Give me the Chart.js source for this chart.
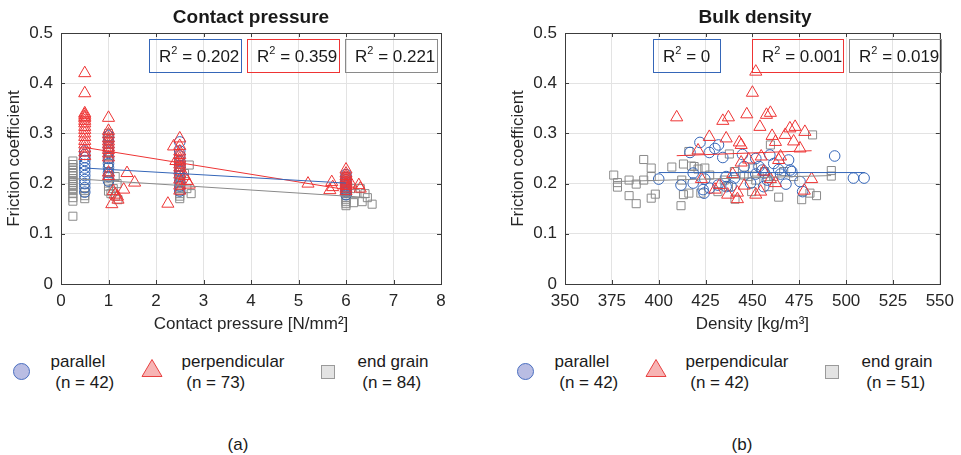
<!DOCTYPE html>
<html>
<head>
<meta charset="utf-8">
<script src="https://cdn.jsdelivr.net/npm/chart.js@4.4.1/dist/chart.umd.min.js"></script>
<style>
  body { margin: 0; background: #fff; font-family: "Liberation Sans", Arial, sans-serif; color: #1a1a1a; }
  #wrap { position: relative; width: 961px; height: 455px; overflow: hidden; }
  canvas { position: absolute; top: 0; }
  .title { position: absolute; top: 6px; font-weight: bold; font-size: 19px; line-height: 22px; transform: translateX(-50%); white-space: nowrap; }
  .r2 { position: absolute; top: 39px; height: 34px; border: 1.3px solid; box-sizing: border-box; font-size: 17px; line-height: 33px; padding-left: 9px; white-space: nowrap; color: #1a1a1a; }
  .r2 sup { font-size: 11px; line-height: 0; position: relative; top: -1px; }
  .leg-text { position: absolute; top: 351px; font-size: 17px; line-height: 21px; white-space: pre; }
  .sub { position: absolute; top: 434px; font-size: 17px; line-height: 21px; transform: translateX(-50%); }
  .mk { position: absolute; box-sizing: border-box; }
</style>
</head>
<body>
<div id="wrap">
  <canvas id="cpChart" width="480" height="340" style="left:0px"></canvas>
  <canvas id="denChart" width="481" height="340" style="left:480px"></canvas>
</div>
<script>
// ---- data ----
const grainTypes = ['parallel', 'perpendicular', 'end grain'];
const cpCounts = [42, 73, 84];
const denCounts = [42, 42, 51];
const cpR2 = ['0.202', '0.359', '0.221'];
const denR2 = ['0', '0.001', '0.019'];

// contact pressure panel
const cpParX = [0.5,0.5,0.5,0.5,0.5,0.5,0.5,0.5,0.5,0.5,0.5,0.5,
  1,1,1,1,1,1,1,1,1,1,
  2.5,2.5,2.5,2.5,2.5,2.5,2.5,2.5,2.5,2.5,
  6,6,6,6,6,6,6,6,6,6];
const cpParY = [0.265,0.258,0.252,0.246,0.238,0.231,0.224,0.216,0.208,0.2,0.192,0.183,
  0.295,0.285,0.272,0.262,0.25,0.24,0.232,0.222,0.214,0.205,
  0.283,0.265,0.255,0.245,0.235,0.225,0.215,0.205,0.195,0.185,
  0.218,0.212,0.207,0.203,0.2,0.196,0.192,0.188,0.184,0.178];

const cpPerpX = [0.5,0.5,0.5,0.5,0.5,0.5,0.5,0.5,0.5,0.5,0.5,0.5,0.5,0.5,0.5,0.5,0.5,
  1,1,1,1,1,1,1,1,1,1,1,1,
  1.07,1.14,1.19,1.1,1.32,1.39,1.55,1.2,
  2.25,2.37,2.42,2.5,2.5,2.5,2.5,2.5,2.5,2.5,2.5,2.5,2.5,2.5,2.5,2.5,2.6,2.65,2.7,
  6,6,6,6,6,6,6,6,6,6,5.2,5.66,5.7,5.72,6.27,6.3,6.1];
const cpPerpY = [0.42,0.38,0.34,0.337,0.333,0.33,0.325,0.32,0.313,0.307,0.3,0.293,0.285,0.278,0.27,0.262,0.255,
  0.331,0.305,0.298,0.29,0.284,0.278,0.272,0.267,0.26,0.252,0.222,0.215,
  0.159,0.178,0.174,0.185,0.188,0.221,0.202,0.168,
  0.16,0.274,0.245,0.29,0.275,0.264,0.257,0.25,0.244,0.238,0.232,0.226,0.218,0.208,0.196,0.186,0.215,0.205,0.198,
  0.228,0.22,0.215,0.21,0.206,0.202,0.198,0.195,0.19,0.185,0.2,0.187,0.203,0.193,0.197,0.19,0.2];

const cpEndX = [0.25,0.25,0.25,0.25,0.25,0.25,0.25,0.25,0.25,0.25,0.25,0.25,0.25,0.25,0.25,0.25,0.25,
  0.5,0.5,0.5,0.5,
  1,1,1,1,1,1,1,1,1,1,1,1,1,1,1,
  1.05,1.1,1.14,1.15,1.2,1.18,
  2.5,2.5,2.5,2.5,2.5,2.5,2.5,2.5,2.5,2.5,2.5,2.5,2.5,2.5,
  2.6,2.7,2.74,2.65,
  6,6,6,6,6,6,6,6,6,6,6,6,6,6,6,6,
  6.1,6.16,6.2,6.3,6.34,6.4,6.45,6.55];
const cpEndY = [0.245,0.238,0.232,0.226,0.22,0.215,0.21,0.206,0.202,0.198,0.194,0.19,0.186,0.18,0.172,0.165,0.135,
  0.19,0.182,0.176,0.17,
  0.3,0.292,0.285,0.278,0.27,0.262,0.255,0.248,0.24,0.232,0.224,0.215,0.205,0.195,0.185,
  0.18,0.19,0.214,0.175,0.168,0.2,
  0.245,0.238,0.232,0.225,0.218,0.212,0.205,0.2,0.195,0.19,0.185,0.18,0.175,0.17,
  0.22,0.237,0.18,0.19,
  0.215,0.21,0.205,0.2,0.196,0.192,0.188,0.184,0.18,0.176,0.172,0.168,0.164,0.16,0.156,0.2,
  0.19,0.162,0.18,0.19,0.164,0.18,0.172,0.159];

// linear fits (end points)
const cpFitParX = [0.5, 6], cpFitParY = [0.231, 0.201];
const cpFitPerpX = [0.5, 6], cpFitPerpY = [0.272, 0.188];
const cpFitEndX = [0.25, 6.5], cpFitEndY = [0.21, 0.172];

// bulk density panel
const denParX = [400,411.9,416.7,422,427,430,431.9,434.2,418.4,418.4,424.6,424.2,423.7,431.6,436,438.6,440.4,444.7,445.6,451.8,
  453.5,455.3,456.5,459.3,451.8,449,456,461.4,464,465,469.3,470.2,471,467.9,475.4,476.8,493.9,503.9,509.6,436,427.2,457.9];
const denParY = [0.209,0.197,0.262,0.282,0.262,0.27,0.277,0.252,0.221,0.201,0.209,0.181,0.188,0.197,0.214,0.195,0.211,0.258,0.234,0.25,
  0.234,0.227,0.221,0.257,0.219,0.201,0.194,0.24,0.228,0.219,0.247,0.227,0.224,0.199,0.204,0.184,0.255,0.211,0.211,0.194,0.191,0.207];

const denPerpX = [409.6,451.8,450,447,434.2,437.2,457.5,459.6,454,427,436,421,443,444,460.5,462.3,467.5,470,472.8,472,
  478,475.4,465,464,454.7,444,448,439.5,456,422.8,432.5,430,445.6,459.6,462.3,481.6,477.7,436.8,442,442,451.8,454.4];
const denPerpY = [0.332,0.423,0.381,0.338,0.325,0.332,0.337,0.341,0.313,0.293,0.29,0.266,0.282,0.277,0.295,0.283,0.297,0.31,0.313,0.284,
  0.303,0.27,0.254,0.247,0.254,0.242,0.248,0.219,0.224,0.209,0.197,0.188,0.196,0.209,0.201,0.209,0.186,0.178,0.182,0.169,0.178,0.184];

const denEndX = [376,378,378,384.2,384.2,388,388,392,392,396,396,396,398.2,407,411.9,413.2,413.2,416.1,417.5,416.1,
  418.9,421,422.5,424.6,427.2,431.6,437.7,437.2,440.7,440.4,445.6,448,450,449.6,451.8,456.5,459.6,458.8,461.4,464,
  466.7,472,476.3,480.7,482.1,484.2,492.1,492.1,457.9,435,412.3];
const denEndY = [0.217,0.202,0.193,0.207,0.176,0.16,0.199,0.207,0.248,0.231,0.214,0.171,0.179,0.233,0.156,0.239,0.178,0.264,0.235,0.181,
  0.234,0.229,0.181,0.231,0.217,0.184,0.259,0.194,0.169,0.224,0.217,0.214,0.231,0.184,0.207,0.224,0.277,0.194,0.214,0.173,
  0.224,0.214,0.168,0.181,0.297,0.176,0.226,0.215,0.214,0.207,0.207];

const denFitParX = [400, 510], denFitParY = [0.222, 0.222];
const denFitPerpX = [409.6, 481.6], denFitPerpY = [0.2556, 0.2655];
const denFitEndX = [376, 492], denFitEndY = [0.204, 0.216];

// ---- styling ----
const BLUE = '#3566b8', RED = '#ee3434', GRAY = '#8a8a8a';
const FONT = '"Liberation Sans", Arial, sans-serif';
const TXT = '#262626';

const pts = (xs, ys) => xs.map((x, i) => ({ x: x, y: ys[i] }));

// box around plot area with inward ticks (MATLAB look)
const framePlugin = {
  id: 'frame',
  afterDatasetsDraw(chart) {
    const { ctx, chartArea: a, scales } = chart;
    ctx.save();
    ctx.strokeStyle = '#3c3c3c';
    ctx.lineWidth = 1;
    ctx.strokeRect(Math.round(a.left) + 0.5, Math.round(a.top) + 0.5, Math.round(a.right - a.left), Math.round(a.bottom - a.top));
    ctx.beginPath();
    scales.x.ticks.forEach(t => {
      const px = Math.round(scales.x.getPixelForValue(t.value)) + 0.5;
      ctx.moveTo(px, a.top); ctx.lineTo(px, a.top + 4);
      ctx.moveTo(px, a.bottom); ctx.lineTo(px, a.bottom - 4);
    });
    scales.y.ticks.forEach(t => {
      const py = Math.round(scales.y.getPixelForValue(t.value)) + 0.5;
      ctx.moveTo(a.left, py); ctx.lineTo(a.left + 4, py);
      ctx.moveTo(a.right, py); ctx.lineTo(a.right - 4, py);
    });
    ctx.stroke();
    ctx.restore();
  }
};

function makePanel(id, opts) {
  const scatter = (label, data, style, color, radius, order) => ({
    type: 'scatter', label, data, pointStyle: style, pointRadius: radius,
    pointBorderColor: color, pointBackgroundColor: 'rgba(0,0,0,0)', pointBorderWidth: 1, order
  });
  const fit = (data, color) => ({
    type: 'line', data, borderColor: color, borderWidth: 1, pointRadius: 0, fill: false, order: 0
  });
  return new Chart(document.getElementById(id).getContext('2d'), {
    type: 'scatter',
    data: {
      datasets: [
        fit(opts.fits[0], BLUE), fit(opts.fits[1], RED), fit(opts.fits[2], GRAY),
        scatter(grainTypes[1], opts.perp, 'triangle', RED, 7, 1),
        scatter(grainTypes[0], opts.par, 'circle', BLUE, 5.3, 2),
        scatter(grainTypes[2], opts.end, 'rect', GRAY, 5.7, 3)
      ]
    },
    options: {
      responsive: false,
      animation: false,
      layout: { padding: { top: 33, right: opts.padRight, left: opts.padLeft, bottom: 0 } },
      plugins: { legend: { display: false }, tooltip: { enabled: false } },
      scales: {
        x: {
          type: 'linear', min: opts.xMin, max: opts.xMax,
          afterFit: s => { s.height = 56; },
          ticks: { stepSize: opts.xStep, color: TXT, padding: 7, maxRotation: 0, font: { family: FONT, size: 17 } },
          grid: { color: '#e3e3e3', drawTicks: false },
          border: { display: false },
          title: { display: true, text: opts.xTitle, color: TXT, padding: { top: 0, bottom: 5 }, font: { family: FONT, size: 17 } }
        },
        y: {
          min: 0, max: 0.5,
          afterFit: s => { s.width = 61; },
          ticks: { stepSize: 0.1, color: TXT, padding: 8, font: { family: FONT, size: 17 },
                   callback: v => String(+v.toFixed(1)) },
          grid: { color: '#e3e3e3', drawTicks: false },
          border: { display: false },
          title: { display: true, text: 'Friction coefficient', color: TXT, padding: { top: 4, bottom: 0 }, font: { family: FONT, size: 17 } }
        }
      }
    },
    plugins: [framePlugin]
  });
}

makePanel('cpChart', {
  xMin: 0, xMax: 8, xStep: 1, xTitle: 'Contact pressure [N/mm²]', padLeft: 0, padRight: 39,
  par: pts(cpParX, cpParY), perp: pts(cpPerpX, cpPerpY), end: pts(cpEndX, cpEndY),
  fits: [pts(cpFitParX, cpFitParY), pts(cpFitPerpX, cpFitPerpY), pts(cpFitEndX, cpFitEndY)]
});
makePanel('denChart', {
  xMin: 350, xMax: 550, xStep: 25, xTitle: 'Density [kg/m³]', padLeft: 24, padRight: 16,
  par: pts(denParX, denParY), perp: pts(denPerpX, denPerpY), end: pts(denEndX, denEndY),
  fits: [pts(denFitParX, denFitParY), pts(denFitPerpX, denFitPerpY), pts(denFitEndX, denFitEndY)]
});

// ---- titles, R² boxes, legends ----
const wrap = document.getElementById('wrap');
function add(html) { wrap.insertAdjacentHTML('beforeend', html); }

add('<div class="title" style="left:251px">Contact pressure</div>');
add('<div class="title" style="left:755px">Bulk density</div>');

const boxColors = [BLUE, RED, GRAY];
[[149, 247, 345], [653, 752, 849]].forEach((lefts, p) => {
  const widths = p === 0 ? [93, 93, 93] : [68, 92, 93];
  const vals = p === 0 ? cpR2 : denR2;
  lefts.forEach((l, i) => {
    add(`<div class="r2" style="left:${l}px;width:${widths[i]}px;border-color:${boxColors[i]}">R<sup>2</sup> = ${vals[i]}</div>`);
  });
});

function legend(markX, textX, counts) {
  add(`<div class="mk" style="left:${markX[0] - 8.5}px;top:363px;width:17px;height:17px;border-radius:50%;background:#b9bde3;border:1px solid #4a6fc0"></div>`);
  add(`<svg class="mk" style="left:${markX[1] - 11}px;top:358px" width="22" height="20"><polygon points="11,1.5 21,18.5 1,18.5" fill="#f7b4b4" stroke="#e84040" stroke-width="1"/></svg>`);
  add(`<div class="mk" style="left:${markX[2] - 7}px;top:365px;width:14px;height:14px;background:#e3e3e3;border:1px solid #9a9a9a"></div>`);
  grainTypes.forEach((g, i) => {
    add(`<div class="leg-text" style="left:${textX[i]}px">${g}\n (n = ${counts[i]})</div>`);
  });
}
legend([21, 152, 328], [50.5, 181.5, 357.5], cpCounts);
legend([525, 656, 832], [554.5, 685.5, 861.5], denCounts);

add('<div class="sub" style="left:238px">(a)</div>');
add('<div class="sub" style="left:742px">(b)</div>');
</script>
</body>
</html>
